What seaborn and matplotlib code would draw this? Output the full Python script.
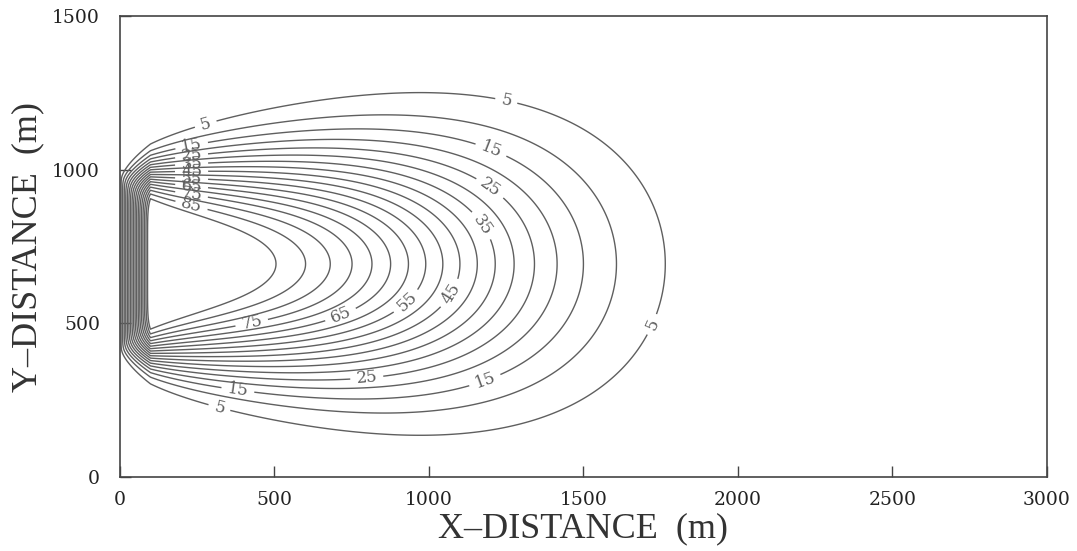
import numpy as np
import pandas as pd
import matplotlib
matplotlib.use("Agg")
import matplotlib.pyplot as plt
import seaborn as sns
from scipy.special import erf, erfc

# contour levels (concentration, %) and which of them carry a label
levels = [5, 10, 15, 20, 25, 30, 35, 40, 45, 50, 55, 60, 65, 70, 75, 80, 85, 90]
labeled_levels = [5, 15, 25, 35, 45, 55, 65, 75, 85]

# plume readings (metres)
source_y = [402, 985]        # lower / upper edge of the source strip
front_x = 1128               # position of the 50 % front along the axis
front_spread = 600           # longitudinal spread of the front
transverse_alpha = 18        # transverse dispersivity
ramp_width = 100             # first grid cell next to the x = 0 boundary
peak = 100

x_ticks = [0, 500, 1000, 1500, 2000, 2500, 3000]
y_ticks = [0, 500, 1000, 1500]

# concentration field on a regular grid
xs = np.linspace(0, 3000, 601)
ys = np.linspace(0, 1500, 301)
X, Y = np.meshgrid(xs, ys)
w = 2 * np.sqrt(transverse_alpha * np.maximum(X, 1e-6))
transverse = 0.5 * (erf((Y - source_y[0]) / w) - erf((Y - source_y[1]) / w))
longitudinal = 0.5 * erfc((X - front_x) / front_spread)
ramp = np.clip(X / ramp_width, 0, 1)
conc = peak * ramp * longitudinal * transverse

# where the labels sit (approximate, matplotlib snaps them onto the lines)
label_spots = [(269, 1183), (1246, 1199), (1197, 1052), (1197, 938), (1165, 814),
               (1058, 605), (913, 588), (712, 536), (427, 505), (799, 333),
               (1172, 343), (382, 278), (317, 203), (1709, 503)]
# the crowded stack of labels on the upper flank near the source
stack_x = 233
col = conc[:, np.argmin(np.abs(xs - stack_x))]
upper = ys > 700
for lv in labeled_levels[1:]:
    yy = ys[upper][np.argmin(np.abs(col[upper] - lv))]
    label_spots.append((stack_x, yy))

sns.set_theme(style="white")
plt.rcParams["font.family"] = ["DejaVu Serif"]

fig = plt.figure(figsize=(10.77, 5.51), dpi=100)
ax = fig.add_axes([0.111, 0.134, 0.861, 0.837])

line_kw = dict(colors="#5f5f5f", linewidths=1.0)
plain_levels = [lv for lv in levels if lv not in labeled_levels]
ax.contour(X, Y, conc, levels=plain_levels, **line_kw)
cs = ax.contour(X, Y, conc, levels=labeled_levels, **line_kw)
ax.clabel(cs, fmt="%d", inline=True, fontsize=12, inline_spacing=6, manual=label_spots)

ax.set_xlim(0, 3000)
ax.set_ylim(0, 1500)
ax.set_xticks(x_ticks)
ax.set_yticks(y_ticks)
ax.tick_params(direction="in", length=8, width=1, colors="#444444", labelcolor="#222222",
               labelsize=13.5, bottom=True, left=True)
ax.tick_params(axis="x", pad=10)
ax.tick_params(axis="y", pad=14)
for s in ax.spines.values():
    s.set_color("#444444")
    s.set_linewidth(1.2)

ax.set_xlabel("X\u2013DISTANCE  (m)", fontsize=26, family="Liberation Serif", color="#333333", labelpad=2)
ax.set_ylabel("Y\u2013DISTANCE  (m)", fontsize=26, family="Liberation Serif", color="#333333", labelpad=6)

fig.savefig("out.png", dpi=100, facecolor="white")
